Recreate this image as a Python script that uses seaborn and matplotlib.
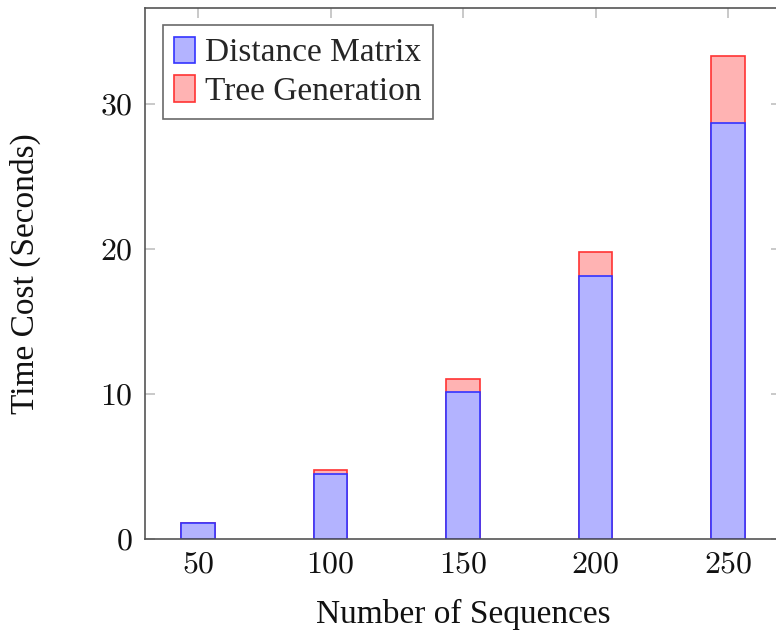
import matplotlib
matplotlib.use("Agg")
import matplotlib.pyplot as plt
import seaborn as sns
import numpy as np
import pandas as pd
from matplotlib.patches import Patch

sequences = [50, 100, 150, 200, 250]
distance_matrix = [1.08, 4.5, 10.1, 18.1, 28.7]
tree_generation = [0.05, 0.24, 0.94, 1.7, 4.6]
total = [d + t for d, t in zip(distance_matrix, tree_generation)]
x_tick_labels = ["50", "100", "150", "200", "250"]
y_ticks = [0, 10, 20, 30]
y_tick_labels = ["0", "10", "20", "30"]

sns.set_theme(style="white")
plt.rcParams['font.family'] = ['Liberation Serif', 'DejaVu Serif']

fig = plt.figure(figsize=(7.76, 6.35), dpi=100)
W, H = 776, 635
left, right, top, bottom = 145, 781, 8, 539
ax = fig.add_axes([left / W, 1 - bottom / H, (right - left) / W, (bottom - top) / H])

df = pd.DataFrame({"n": sequences, "dist": distance_matrix, "total": total})

blue_face = "#b3b3ff"
red_face = "#ffb3b3"
sns.barplot(data=df, x="n", y="total", native_scale=True, width=0.25, ax=ax,
            color=red_face, saturation=1, edgecolor="#ff3333", linewidth=1.2)
sns.barplot(data=df, x="n", y="dist", native_scale=True, width=0.25, ax=ax,
            color=blue_face, saturation=1, edgecolor="#3333ff", linewidth=1.2)

ax.set_xlim(30, 270)
ax.set_ylim(0, 36.6)
ax.set_xticks(sequences)
ax.set_yticks(y_ticks)
ax.set_xticklabels(x_tick_labels, fontfamily="cmr10")
ax.set_yticklabels(y_tick_labels, fontfamily="cmr10")

for s in ax.spines.values():
    s.set_color("#555555")
    s.set_linewidth(1.2)

ax.tick_params(axis="both", which="both", direction="in", length=7, width=1.2,
               color="#c0c0c0", top=True, right=True, bottom=True, left=True,
               labelsize=23, labelcolor="#111111", pad=9)

ax.set_xlabel("Number of Sequences", fontsize=24, color="#111111")
ax.set_ylabel("Time Cost (Seconds)", fontsize=24, color="#111111")
ax.xaxis.set_label_coords(0.5, -0.112)
ax.yaxis.set_label_coords(-0.163, 0.5)

handles = [Patch(facecolor=blue_face, edgecolor="#3333ff", linewidth=1.2, label="Distance Matrix"),
           Patch(facecolor=red_face, edgecolor="#ff3333", linewidth=1.2, label="Tree Generation")]
leg = ax.legend(handles=handles, loc="upper left", bbox_to_anchor=(0.028, 0.968),
                fontsize=24, fancybox=False, frameon=True, handlelength=0.62,
                handleheight=0.85, handletextpad=0.3, borderpad=0.35, labelspacing=0.2,
                borderaxespad=0)
leg.get_frame().set_edgecolor("#444444")
leg.get_frame().set_linewidth(1.2)

fig.savefig("out.png", dpi=100)
